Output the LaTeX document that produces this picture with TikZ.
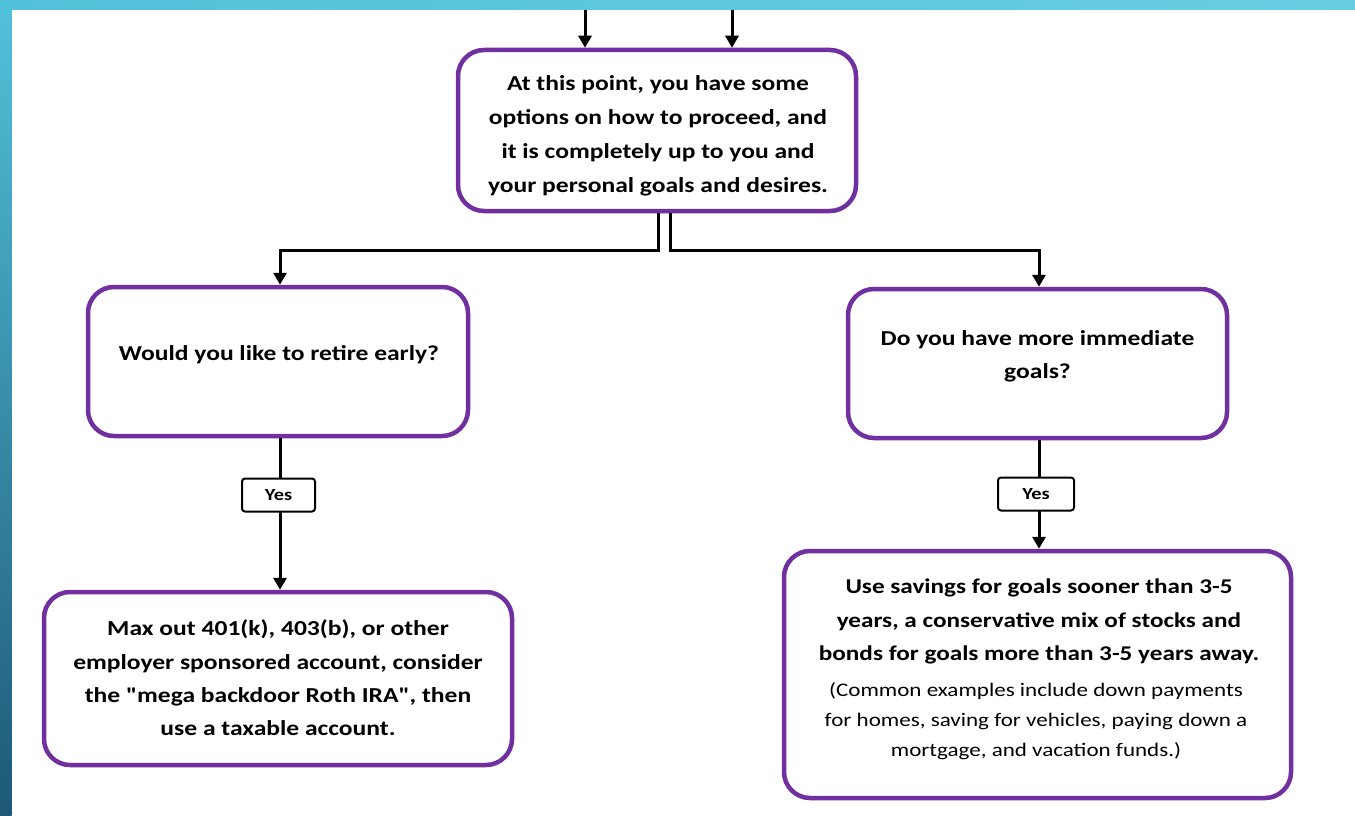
\documentclass[tikz,border=0pt]{standalone}
\usepackage{fontspec}
\setmainfont{Carlito}[FakeStretch=1.2]
\usetikzlibrary{arrows.meta}
\definecolor{boxpurple}{RGB}{112,48,160}
\definecolor{bandlight}{RGB}{82,194,218}
\definecolor{bandmid}{RGB}{104,205,225}
\definecolor{banddark}{RGB}{30,88,120}
\newcommand{\straightquote}{{\addfontfeatures{Ligatures=TeXOff}"}}
\tikzset{
  stepbox/.style={draw=boxpurple, line width=4.5pt, rounded corners=26pt, fill=white,
    inner sep=0pt},
  steptext/.style={align=center, font=\bfseries\fontsize{21.3}{34}\selectfont, inner sep=0pt},
  notetext/.style={align=center, font=\fontsize{19.2}{30}\selectfont, inner sep=0pt},
  yesbox/.style={draw=black, line width=2pt, rounded corners=3pt, fill=white,
    font=\bfseries\fontsize{17}{18}\selectfont, inner sep=0pt, minimum height=33pt},
  link/.style={draw=black, line width=3pt},
  linkarrow/.style={link, -{Triangle[length=12pt,width=13pt]}},
}
\begin{document}
\begin{tikzpicture}[x=1pt,y=-1pt]
\useasboundingbox (0,0) rectangle (1355,816);
\fill[white] (0,0) rectangle (1355,816);
% frame bands
\shade[left color=bandlight, right color=bandmid] (0,0) rectangle (1355,10);
\shade[top color=bandlight, bottom color=banddark] (0,0) rectangle (11.5,816);

% decision boxes
\node[stepbox, minimum width=398pt, minimum height=161pt] (top) at (657,130.5) {};
\node[steptext] (topText) at (658,135.5)
  {At this point, you have some\\options on how to proceed, and\\it is completely up to you and\\your personal goals and desires.};

\node[stepbox, minimum width=380pt, minimum height=149pt] (early) at (278,361.5) {};
\node[steptext] (earlyText) at (279,355) {Would you like to retire early?};

\node[stepbox, minimum width=379pt, minimum height=149pt] (goals) at (1037.5,363.5) {};
\node[steptext, font=\bfseries\fontsize{21.3}{33}\selectfont] (goalsText) at (1037.5,356.5)
  {Do you have more immediate\\goals?};

\node[stepbox, minimum width=468pt, minimum height=173pt] (max) at (278,678.5) {};
\node[steptext, font=\bfseries\fontsize{21.3}{33.4}\selectfont] (maxText) at (278,678)
  {Max out 401(k), 403(b), or other\\employer sponsored account, consider\\the \straightquote mega backdoor Roth IRA\straightquote, then\\use a taxable account.};

\node[stepbox, minimum width=507pt, minimum height=247pt] (save) at (1037.5,674.5) {};
\node[steptext, font=\bfseries\fontsize{21}{33.5}\selectfont] (saveText) at (1039,621.5)
  {Use savings for goals sooner than 3-5\\years, a conservative mix of stocks and\\bonds for goals more than 3-5 years away.};
\node[notetext] (saveNote) at (1036,721)
  {(Common examples include down payments\\for homes, saving for vehicles, paying down a\\mortgage, and vacation funds.)};

% incoming arrows from above
\coordinate (inA) at (585,10);
\coordinate (inB) at (732,10);
\draw[linkarrow] (inA) -- (inA |- top.north);
\draw[linkarrow] (inB) -- (inB |- top.north);

% branching from the top box
\draw[linkarrow] ([xshift=1.5pt]top.south) -- ++(0,37) -| ([xshift=2pt]early.north);
\draw[linkarrow] ([xshift=13pt]top.south) -- ++(0,37) -| ([xshift=1.5pt]goals.north);

% yes branches
\draw[linkarrow] ([xshift=2pt]early.south) -- ([xshift=2pt]max.north);
\node[yesbox, minimum width=73pt] (yesL) at (278.5,495) {Yes};
\draw[linkarrow] ([xshift=1.5pt]goals.south) -- ([xshift=1.5pt]goals.south |- save.north);
\node[yesbox, minimum width=76pt] (yesR) at (1036,494) {Yes};
\end{tikzpicture}
\end{document}
